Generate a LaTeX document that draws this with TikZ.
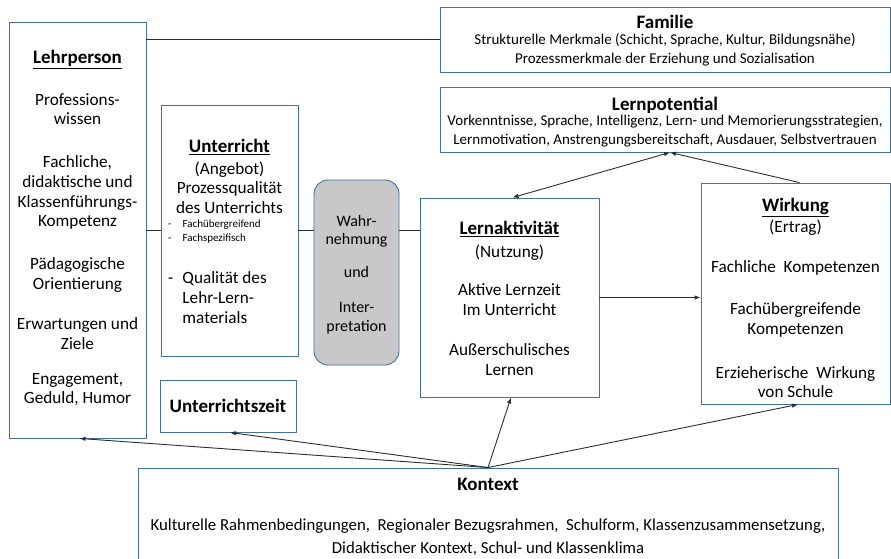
\documentclass[tikz,border=0pt]{standalone}
\usepackage{fontspec}
\setmainfont{Carlito}
\usetikzlibrary{arrows.meta}
\definecolor{boxline}{RGB}{65,113,156}
\definecolor{linegray}{RGB}{45,45,45}
\definecolor{boxgray}{RGB}{200,200,200}
\newcommand{\titelfont}{\fontsize{19}{21}\selectfont\bfseries}
\begin{document}
\begin{tikzpicture}[x=1pt,y=-1pt,
    box/.style={draw=boxline,line width=0.9pt,fill=white,inner sep=0pt},
    txt/.style={inner sep=0pt,anchor=north,align=center,font=\fontsize{17.2}{19.7}\selectfont},
    head/.style={txt,font=\fontsize{15}{19}\selectfont},
    con/.style={draw=linegray,line width=0.9pt},
    arr/.style={con,-{Latex[length=6pt,width=4.5pt]}}]
  \useasboundingbox (0,0) rectangle (891,559);

  % boxes
  \node[box,minimum width=137,minimum height=416] (lehr) at (77.5,230) {};
  \node[box,minimum width=450,minimum height=65] (fam) at (665,39.5) {};
  \node[box,minimum width=450,minimum height=65] (lpot) at (665,119.5) {};
  \node[box,minimum width=137,minimum height=251] (unt) at (229.5,230.5) {};
  \node[box,fill=boxgray,rounded corners=14pt,minimum width=85,minimum height=185] (wahr) at (356.5,272.5) {};
  \node[box,minimum width=179,minimum height=199] (lakt) at (509.5,297.5) {};
  \node[box,minimum width=189,minimum height=221] (wirk) at (795.5,293.5) {};
  \node[box,font=\titelfont,minimum width=136,minimum height=52] (uzeit) at (228,406) {Unterrichtszeit};
  \node[box,minimum width=700,minimum height=98] (kon) at (488,517) {};

  % texts
  \node[txt] (lehrtxt) at (77.5,50) {{\titelfont\underline{Lehrperson}}\\[22pt]
    Professions-\\wissen\\[23pt]
    Fachliche,\\didaktische und\\Klassenführungs-\\Kompetenz\\[23pt]
    Pädagogische\\Orientierung\\[21pt]
    Erwartungen und\\Ziele\\[15pt]
    Engagement,\\Geduld, Humor};
  \node[head] (famtxt) at (665,15) {{\titelfont Familie}\\[-3pt]
    Strukturelle Merkmale (Schicht, Sprache, Kultur, Bildungsnähe)\\
    Prozessmerkmale der Erziehung und Sozialisation};
  \node[head] (lpottxt) at (665,97) {{\titelfont Lernpotential}\\[-4pt]
    Vorkenntnisse, Sprache, Intelligenz, Lern- und Memorierungsstrategien,\\
    Lernmotivation, Anstrengungsbereitschaft, Ausdauer, Selbstvertrauen};
  \node[txt] (unttxt) at (229.5,139) {{\titelfont\underline{Unterricht}}\\[2pt]
    (Angebot)\\Prozessqualität\\des Unterrichts};
  \node[inner sep=0pt,anchor=north west,font=\fontsize{11}{14}\selectfont] (untlist) at (168,217)
    {\begin{tabular}{@{}l@{\hspace{11pt}}l@{}}-&Fachübergreifend\\-&Fachspezifisch\end{tabular}};
  \node[inner sep=0pt,anchor=north west,font=\fontsize{17.2}{19.7}\selectfont] (untmat) at (168,270)
    {\begin{tabular}{@{}l@{\hspace{9pt}}l@{}}-&Qualität des\\&Lehr-Lern-\\&materials\end{tabular}};
  \node[txt,font=\fontsize{16}{18.5}\selectfont] (wahrtxt) at (356.5,215) {Wahr-\\nehmung\\[14.5pt]und\\[16.5pt]Inter-\\pretation};
  \node[txt] (lakttxt) at (509.5,221) {{\titelfont\underline{Lernaktivität}}\\[3pt]
    (Nutzung)\\[19pt]
    Aktive Lernzeit\\Im Unterricht\\[20pt]
    Außerschulisches\\Lernen};
  \node[txt] (wirktxt) at (795.5,198) {{\titelfont\underline{Wirkung}}\\[1pt]
    (Ertrag)\\[21pt]
    Fachliche\ \ Kompetenzen\\[22pt]
    Fachübergreifende\\Kompetenzen\\[24pt]
    Erzieherische\ \ Wirkung\\von Schule};
  \node[txt,font=\fontsize{16.8}{22.5}\selectfont] (kontxt) at (488,478) {{\titelfont Kontext}\\[17.5pt]
    Kulturelle Rahmenbedingungen,\ \ Regionaler Bezugsrahmen,\ \ Schulform,\ Klassenzusammensetzung,\\
    Didaktischer Kontext, Schul- und Klassenklima};

  % connectors
  \draw[con] (lehr.east |- fam.west) -- (fam.west);
  \draw[con] (lehr.east |- unt.west) -- (unt.west);
  \draw[con] (unt.east) -- (unt.east -| wahr.west);
  \draw[con] (wahr.east |- unt.east) -- (lakt.west |- unt.east);
  \draw[arr] (lakt.east) -- (lakt.east -| wirk.west);
  \draw[con,{Latex[length=6pt,width=4.5pt]}-{Latex[length=6pt,width=4.5pt]}] ([xshift=5pt]lpot.south) -- ([xshift=3pt]lakt.north);
  \draw[arr] ([xshift=4pt]wirk.north) -- ([xshift=5pt]lpot.south);
  \draw[arr] (kon.north) -- ([xshift=2pt]lehr.south);
  \draw[arr] (kon.north) -- ([xshift=2pt]uzeit.south);
  \draw[arr] (kon.north) -- ([xshift=1.5pt]lakt.south);
  \draw[arr] (kon.north) -- ([xshift=2.5pt]wirk.south);
\end{tikzpicture}
\end{document}
